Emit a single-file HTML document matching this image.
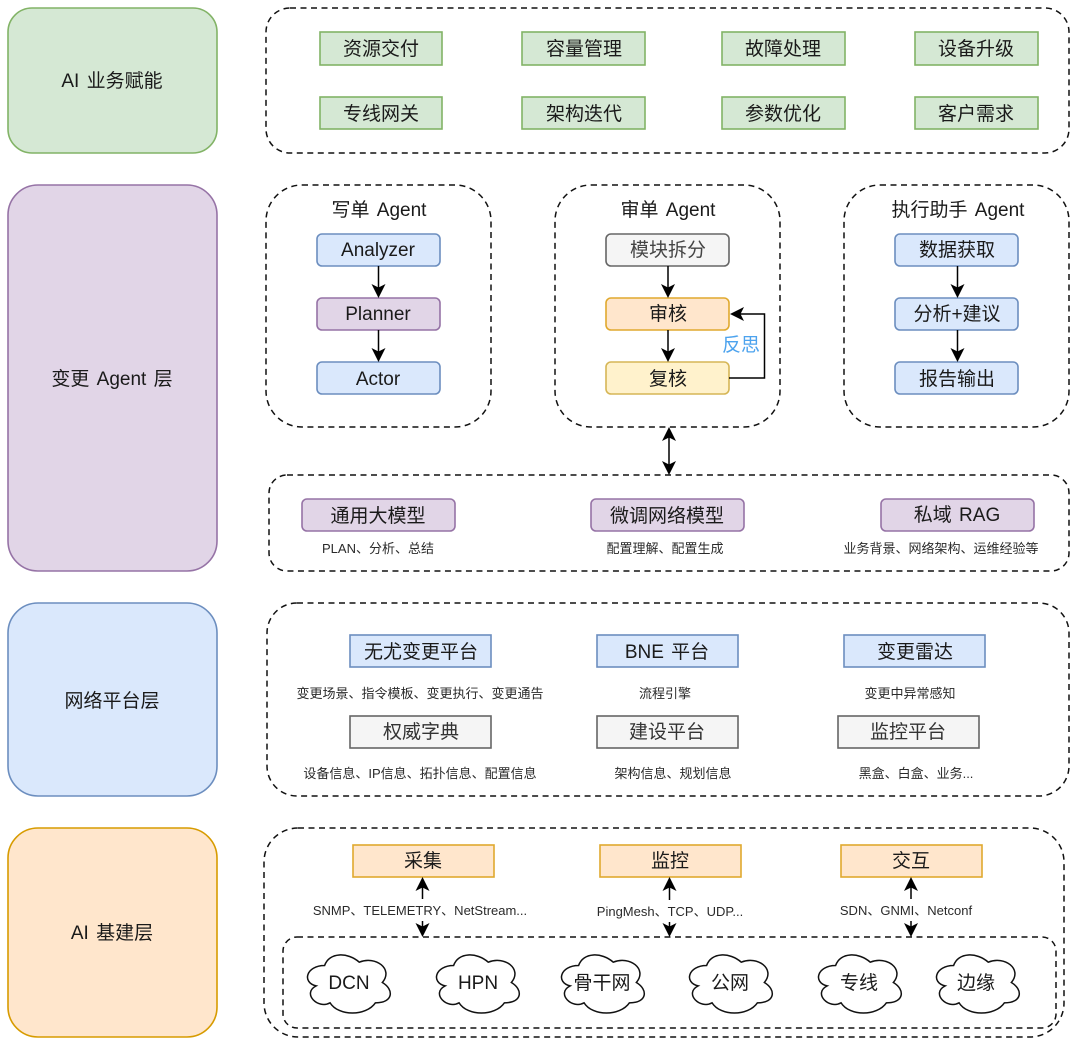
<!DOCTYPE html>
<html><head><meta charset="utf-8">
<style>
html,body{margin:0;padding:0;background:#fff;width:1080px;height:1048px;overflow:hidden}
svg{display:block}
text{font-family:"Liberation Sans","Noto Sans CJK SC",sans-serif;text-anchor:middle;fill:#1a1a1a}
.l{font-size:19px}
.w{word-spacing:2px}
.s{font-size:13px;fill:#2a2a2a}
.d{fill:none;stroke:#111;stroke-width:1.5;stroke-dasharray:6 4.5}
.g{fill:#d5e8d4;stroke:#82b366;stroke-width:1.6}
.p{fill:#e1d5e7;stroke:#9673a6;stroke-width:1.6}
.b{fill:#dae8fc;stroke:#6c8ebf;stroke-width:1.6}
.o{fill:#ffe6cc;stroke:#d79b00;stroke-width:1.6}
.y{fill:#fff2cc;stroke:#d6b656;stroke-width:1.6}
.n{fill:#f5f5f5;stroke:#666;stroke-width:1.6}
.a{stroke:#000;stroke-width:1.5;fill:none}
.c{fill:#fff;stroke:#111;stroke-width:1.5;vector-effect:non-scaling-stroke}
</style></head><body>
<svg width="1080" height="1048" viewBox="0 0 1080 1048" xmlns="http://www.w3.org/2000/svg">
<defs>
<g id="cl"><path class="c" transform="translate(-5.500,-5.400) scale(1.100,1.130)" d="M21 15C4.200 15 0 30 13.400 33C0 39.600 15.100 54 26 48C33.600 60 58.800 60 67.200 48C84 48 84 36 73.500 30C84 18 67.200 6 52.500 12C42 3 25.200 3 21 15Z"/></g>
<path id="ad" d="M0 0L-7 -14L0 -10.500L7 -14Z" fill="#000"/>
<path id="au" d="M0 0L-7 14L0 10.500L7 14Z" fill="#000"/>
<path id="al" d="M0 0L14 -7L10.500 0L14 7Z" fill="#000"/>
</defs>

<!-- layer blocks -->
<rect x="8" y="8" width="209" height="145" rx="24" class="g"/>
<rect x="8" y="185" width="209" height="386" rx="30" class="p"/>
<rect x="8" y="603" width="209" height="193" rx="30" class="b"/>
<rect x="8" y="828" width="209" height="209" rx="30" class="o"/>
<text class="l w" x="112" y="87">AI 业务赋能</text>
<text class="l w" x="112" y="385">变更 Agent 层</text>
<text class="l" x="112" y="707">网络平台层</text>
<text class="l w" x="112" y="939">AI 基建层</text>

<!-- dashed containers -->
<rect x="266" y="8" width="803" height="145" rx="24" class="d"/>
<rect x="266" y="185" width="225" height="242" rx="36" class="d"/>
<rect x="555" y="185" width="225" height="242" rx="36" class="d"/>
<rect x="844" y="185" width="225" height="242" rx="36" class="d"/>
<rect x="269" y="475" width="800" height="96" rx="18" class="d"/>
<rect x="267" y="603" width="802" height="193" rx="30" class="d"/>
<rect x="264" y="828" width="800" height="209" rx="34" class="d"/>
<rect x="283" y="937" width="773" height="91" rx="14" class="d"/>

<!-- business -->
<rect x="320" y="32" width="122" height="33" class="g"/><text class="l" x="381" y="55">资源交付</text>
<rect x="522" y="32" width="123" height="33" class="g"/><text class="l" x="584" y="55">容量管理</text>
<rect x="722" y="32" width="123" height="33" class="g"/><text class="l" x="783" y="55">故障处理</text>
<rect x="915" y="32" width="123" height="33" class="g"/><text class="l" x="976" y="55">设备升级</text>
<rect x="320" y="97" width="122" height="32" class="g"/><text class="l" x="381" y="120">专线网关</text>
<rect x="522" y="97" width="123" height="32" class="g"/><text class="l" x="584" y="120">架构迭代</text>
<rect x="722" y="97" width="123" height="32" class="g"/><text class="l" x="783" y="120">参数优化</text>
<rect x="915" y="97" width="123" height="32" class="g"/><text class="l" x="976" y="120">客户需求</text>

<!-- agents -->
<text class="l w" x="379" y="216">写单 Agent</text>
<text class="l w" x="668" y="216">审单 Agent</text>
<text class="l w" x="958" y="216">执行助手 Agent</text>

<rect x="317" y="234" width="123" height="32" rx="5" class="b"/><text class="l" x="378" y="256">Analyzer</text>
<rect x="317" y="298" width="123" height="32" rx="5" class="p"/><text class="l" x="378" y="320">Planner</text>
<rect x="317" y="362" width="123" height="32" rx="5" class="b"/><text class="l" x="378" y="385">Actor</text>

<rect x="606" y="234" width="123" height="32" rx="5" class="n"/><text class="l" x="668" y="256" style="fill:#444">模块拆分</text>
<rect x="606" y="298" width="123" height="32" rx="5" class="o" style="stroke:#e0a92e"/><text class="l" x="668" y="320">审核</text>
<rect x="606" y="362" width="123" height="32" rx="5" class="y"/><text class="l" x="668" y="385">复核</text>

<rect x="895" y="234" width="123" height="32" rx="5" class="b"/><text class="l" x="957" y="256">数据获取</text>
<rect x="895" y="298" width="123" height="32" rx="5" class="b"/><text class="l" x="957" y="320">分析+建议</text>
<rect x="895" y="362" width="123" height="32" rx="5" class="b"/><text class="l" x="957" y="385">报告输出</text>

<path class="a" d="M378.500 266V290M378.500 330V354M668 266V290M668 330V354M957.500 266V290M957.500 330V354M729 378H764.500V314H738"/>
<use href="#ad" x="378.500" y="298"/><use href="#ad" x="378.500" y="362"/>
<use href="#ad" x="668" y="298"/><use href="#ad" x="668" y="362"/>
<use href="#ad" x="957.500" y="298"/><use href="#ad" x="957.500" y="362"/>
<use href="#al" x="730" y="314"/>
<text class="l" x="741" y="351" style="fill:#4da3ee">反思</text>

<path class="a" d="M669 436V466"/>
<use href="#au" x="669" y="427"/><use href="#ad" x="669" y="475"/>

<!-- models -->
<rect x="302" y="499" width="153" height="32" rx="5" class="p"/><text class="l" x="378" y="522">通用大模型</text>
<rect x="591" y="499" width="153" height="32" rx="5" class="p"/><text class="l" x="667" y="522">微调网络模型</text>
<rect x="881" y="499" width="153" height="32" rx="5" class="p"/><text class="l w" x="957" y="521">私域 RAG</text>
<text class="s" x="378" y="553">PLAN、分析、总结</text>
<text class="s" x="665" y="553">配置理解、配置生成</text>
<text class="s" x="941" y="553">业务背景、网络架构、运维经验等</text>

<!-- platform -->
<rect x="350" y="635" width="141" height="32" class="b"/><text class="l" x="421" y="658">无尤变更平台</text>
<rect x="597" y="635" width="141" height="32" class="b"/><text class="l w" x="667" y="658">BNE 平台</text>
<rect x="844" y="635" width="141" height="32" class="b"/><text class="l" x="915" y="658">变更雷达</text>
<text class="s" x="420" y="698">变更场景、指令模板、变更执行、变更通告</text>
<text class="s" x="665" y="698">流程引擎</text>
<text class="s" x="910" y="698">变更中异常感知</text>
<rect x="350" y="716" width="141" height="32" class="n"/><text class="l" x="421" y="738" style="fill:#333">权威字典</text>
<rect x="597" y="716" width="141" height="32" class="n"/><text class="l" x="667" y="738" style="fill:#333">建设平台</text>
<rect x="838" y="716" width="141" height="32" class="n"/><text class="l" x="908" y="738" style="fill:#333">监控平台</text>
<text class="s" x="420" y="778">设备信息、IP信息、拓扑信息、配置信息</text>
<text class="s" x="673" y="778">架构信息、规划信息</text>
<text class="s" x="916" y="778">黑盒、白盒、业务...</text>

<!-- infra -->
<rect x="353" y="845" width="141" height="32" class="o" style="stroke:#e0a92e"/><text class="l" x="423" y="867">采集</text>
<rect x="600" y="845" width="141" height="32" class="o" style="stroke:#e0a92e"/><text class="l" x="670" y="867">监控</text>
<rect x="841" y="845" width="141" height="32" class="o" style="stroke:#e0a92e"/><text class="l" x="911" y="867">交互</text>
<path class="a" d="M422.500 886V899M422.500 921V928M669.500 886V900M669.500 922V928M911 886V899M911 921V928"/>
<use href="#au" x="422.500" y="877"/><use href="#ad" x="422.500" y="937"/>
<use href="#au" x="669.500" y="877"/><use href="#ad" x="669.500" y="937"/>
<use href="#au" x="911" y="877"/><use href="#ad" x="911" y="937"/>
<text class="s" x="420" y="915">SNMP、TELEMETRY、NetStream...</text>
<text class="s" x="670" y="916">PingMesh、TCP、UDP...</text>
<text class="s" x="906" y="915">SDN、GNMI、Netconf</text>

<!-- clouds -->
<use href="#cl" x="307" y="954"/><text class="l" x="349" y="989">DCN</text>
<use href="#cl" x="436" y="954"/><text class="l" x="478" y="989">HPN</text>
<use href="#cl" x="561" y="954"/><text class="l" x="602" y="989">骨干网</text>
<use href="#cl" x="689" y="954"/><text class="l" x="730" y="989">公网</text>
<use href="#cl" x="818" y="954"/><text class="l" x="859" y="989">专线</text>
<use href="#cl" x="936" y="954"/><text class="l" x="976" y="989">边缘</text>
</svg>
</body></html>
